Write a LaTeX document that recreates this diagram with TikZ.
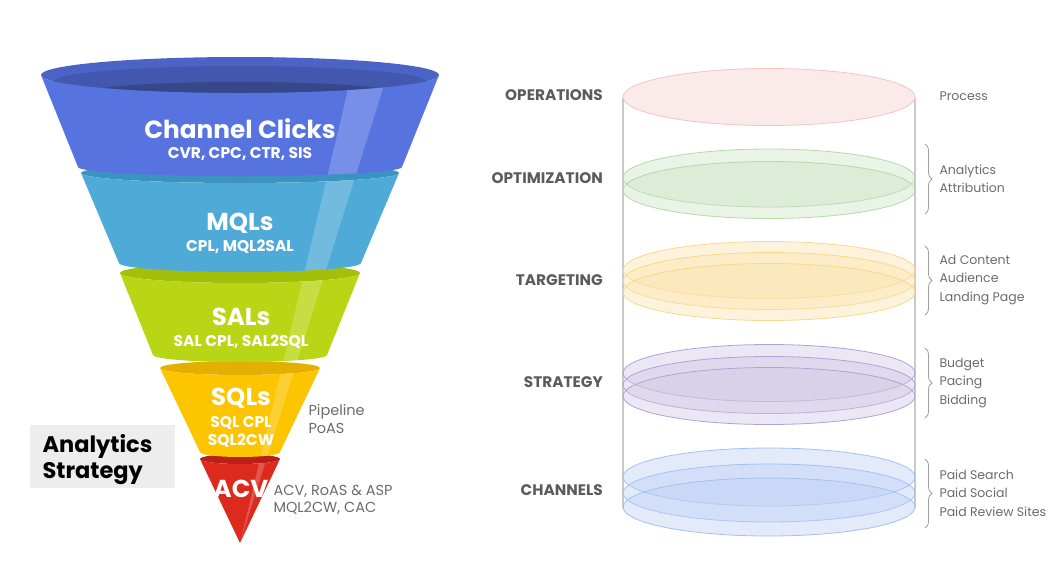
\documentclass[tikz,border=0pt]{standalone}
\usepackage{fontspec}
\setmainfont{Poppins}
\usepackage{tikz}
\usetikzlibrary{positioning,decorations.pathreplacing}

\definecolor{blueRim}{HTML}{4B63C4}
\definecolor{blueMid}{HTML}{4257AD}
\definecolor{blueIn}{HTML}{36488A}
\definecolor{blueBody}{HTML}{5673E0}
\definecolor{tealRim}{HTML}{3B93C0}
\definecolor{tealBody}{HTML}{4FAAD8}
\definecolor{greenRim}{HTML}{A4BF0A}
\definecolor{greenBody}{HTML}{B8D615}
\definecolor{yellowRim}{HTML}{E3B000}
\definecolor{yellowBody}{HTML}{FCC500}
\definecolor{redRim}{HTML}{B81F15}
\definecolor{redBody}{HTML}{DC2A1E}
\definecolor{txtGray}{HTML}{6B6B6B}
\definecolor{lyrGray}{HTML}{5B5B5B}
\definecolor{opsFill}{HTML}{F5CDCD}
\definecolor{opsLine}{HTML}{F2C4C4}
\definecolor{optFill}{HTML}{CBE2C3}
\definecolor{optLine}{HTML}{B6D9AA}
\definecolor{tgtFill}{HTML}{FAE2AC}
\definecolor{tgtLine}{HTML}{F8D98A}
\definecolor{stgFill}{HTML}{CFC6E5}
\definecolor{stgLine}{HTML}{B0A2D6}
\definecolor{chnFill}{HTML}{BCCFF5}
\definecolor{chnLine}{HTML}{A5C0F0}

\tikzset{
	ttl/.style={text=white, font=\bfseries\fontsize{24.5}{27}\selectfont},
	sub/.style={text=white, font=\bfseries\fontsize{15.5}{18}\selectfont, align=center},
	note/.style={text=txtGray, font=\fontsize{14.5}{17.5}\selectfont, align=left, anchor=west},
	lyr/.style={text=lyrGray, font=\bfseries\fontsize{15.3}{17}\selectfont, anchor=east, inner xsep=0pt},
	desc/.style={text=txtGray, font=\fontsize{12.5}{18.5}\selectfont, align=left, anchor=west},
	shine/.style={white, opacity=.2},
	brc/.style={draw=gray!75, line width=.8pt, decorate, decoration={brace, amplitude=7pt}},
	disc/.style={line width=.8pt, fill opacity=.42},
}

\begin{document}
\begin{tikzpicture}[x=1pt, y=-1pt]
		\useasboundingbox (0,0) rectangle (1064,566);

		% funnel, drawn from the tip upwards
		\fill[redRim] (240,459) ellipse[x radius=40, y radius=5];
		\begin{scope}
			\clip (200,459) -- (240,543) -- (280,459) arc[start angle=0, end angle=180, x radius=40, y radius=5] -- cycle;
			\fill[redBody] (190,440) rectangle (290,550);
			\fill[shine] (355,60) -- (392,60) -- (240,543) -- cycle;
		\end{scope}

		\fill[yellowRim] (240,368) ellipse[x radius=80, y radius=7];
		\begin{scope}
			\clip (160,368) -- (200,452) arc[start angle=180, end angle=0, x radius=40, y radius=5] -- (320,368) arc[start angle=0, end angle=180, x radius=80, y radius=7] -- cycle;
			\fill[yellowBody] (150,350) rectangle (330,460);
			\fill[shine] (355,60) -- (392,60) -- (240,543) -- cycle;
		\end{scope}

		\fill[greenRim] (240,273) ellipse[x radius=120, y radius=10];
		\begin{scope}
			\clip (120,273) -- (153,355) arc[start angle=180, end angle=0, x radius=87, y radius=7] -- (360,273) arc[start angle=0, end angle=180, x radius=120, y radius=10] -- cycle;
			\fill[greenBody] (110,260) rectangle (370,370);
			\fill[shine] (355,60) -- (392,60) -- (240,543) -- cycle;
		\end{scope}

		\fill[tealRim] (240,173) ellipse[x radius=159, y radius=10];
		\begin{scope}
			\clip (81,173) -- (119,263) arc[start angle=180, end angle=0, x radius=121, y radius=9] -- (399,173) arc[start angle=0, end angle=180, x radius=159, y radius=10] -- cycle;
			\fill[tealBody] (70,160) rectangle (410,280);
			\fill[shine] (355,60) -- (392,60) -- (240,543) -- cycle;
		\end{scope}

		\fill[blueRim] (240,75) ellipse[x radius=199, y radius=18];
		\fill[blueMid] (240,82) ellipse[x radius=187, y radius=16];
		\fill[blueIn] (240,92) ellipse[x radius=150, y radius=10];
		\begin{scope}
			\clip (41,75) -- (78,167) arc[start angle=180, end angle=0, x radius=162, y radius=9] -- (439,75) arc[start angle=0, end angle=180, x radius=199, y radius=18] -- cycle;
			\fill[blueBody] (30,60) rectangle (450,180);
			\fill[shine] (355,60) -- (392,60) -- (240,543) -- cycle;
		\end{scope}

		\node[ttl, font=\bfseries\fontsize{24.8}{28}\selectfont] (clicks) at (240,129) {Channel Clicks};
		\node[sub] (clicksKpi) at (240,154) {CVR, CPC, CTR, SIS};
		\node[ttl] (mql) at (240,223) {MQLs};
		\node[sub] (mqlKpi) at (240,247) {CPL, MQL2SAL};
		\node[ttl] (sal) at (241,317) {SALs};
		\node[sub] (salKpi) at (241,342) {SAL CPL, SAL2SQL};
		\node[ttl] (sql) at (241,398) {SQLs};
		\node[sub] (sqlKpi) at (241,432) {SQL CPL\\SQL2CW};
		\node[ttl] (acv) at (241,489) {ACV};

		\node[note] (sqlNote) at (305,419) {Pipeline\\PoAS};
		\node[note] (acvNote) at (270,500) {ACV, RoAS \& ASP\\MQL2CW, CAC};

		\fill[gray!14] (30,425) rectangle (175,488);
		\node[anchor=west, align=left, font=\bfseries\fontsize{22.5}{26}\selectfont] (strat) at (39,460) {Analytics\\Strategy};

		% layered cylinder
		\draw[gray!42, line width=1.1pt] (623,98) -- (623,508) (915,98) -- (915,508);

		\draw[disc, draw=opsLine, fill=opsFill] (769,97) ellipse[x radius=146, y radius=28.5];

		\draw[disc, draw=optLine, fill=optFill] (769,178) ellipse[x radius=146, y radius=29];
		\draw[disc, draw=optLine, fill=optFill] (769,190) ellipse[x radius=146, y radius=28.5];

		\draw[disc, draw=tgtLine, fill=tgtFill] (769,270) ellipse[x radius=146, y radius=28.5];
		\draw[disc, draw=tgtLine, fill=tgtFill] (769,281) ellipse[x radius=146, y radius=28.5];
		\draw[disc, draw=tgtLine, fill=tgtFill] (769,292) ellipse[x radius=146, y radius=28.5];

		\draw[disc, draw=stgLine, fill=stgFill] (769,373) ellipse[x radius=146, y radius=28.5];
		\draw[disc, draw=stgLine, fill=stgFill] (769,385) ellipse[x radius=146, y radius=28.5];
		\draw[disc, draw=stgLine, fill=stgFill] (769,396) ellipse[x radius=146, y radius=28.5];

		\draw[disc, draw=chnLine, fill=chnFill] (769,477) ellipse[x radius=146, y radius=29];
		\draw[disc, draw=chnLine, fill=chnFill] (769,493) ellipse[x radius=146, y radius=29];
		\draw[disc, draw=chnLine, fill=chnFill] (769,507) ellipse[x radius=146, y radius=29];

		\node[lyr] (ops) at (603,95) {OPERATIONS};
		\node[lyr] (opt) at (603,178) {OPTIMIZATION};
		\node[lyr] (tgt) at (603,280) {TARGETING};
		\node[lyr] (stg) at (603,382) {STRATEGY};
		\node[lyr] (chn) at (603,490) {CHANNELS};

		\draw[brc] (925,144) -- (925,214);
		\draw[brc] (925,246) -- (925,315);
		\draw[brc] (925,348) -- (925,418);
		\draw[brc] (925,459) -- (925,528);

		\node[desc] (opsText) at (936,96) {Process};
		\node[desc] (optText) at (936,179) {Analytics\\Attribution};
		\node[desc] (tgtText) at (936,280) {Ad Content\\Audience\\Landing Page};
		\node[desc] (stgText) at (936,383) {Budget\\Pacing\\Bidding};
		\node[desc] (chnText) at (936,493) {Paid Search\\Paid Social\\Paid Review Sites};
	\end{tikzpicture}
\end{document}
